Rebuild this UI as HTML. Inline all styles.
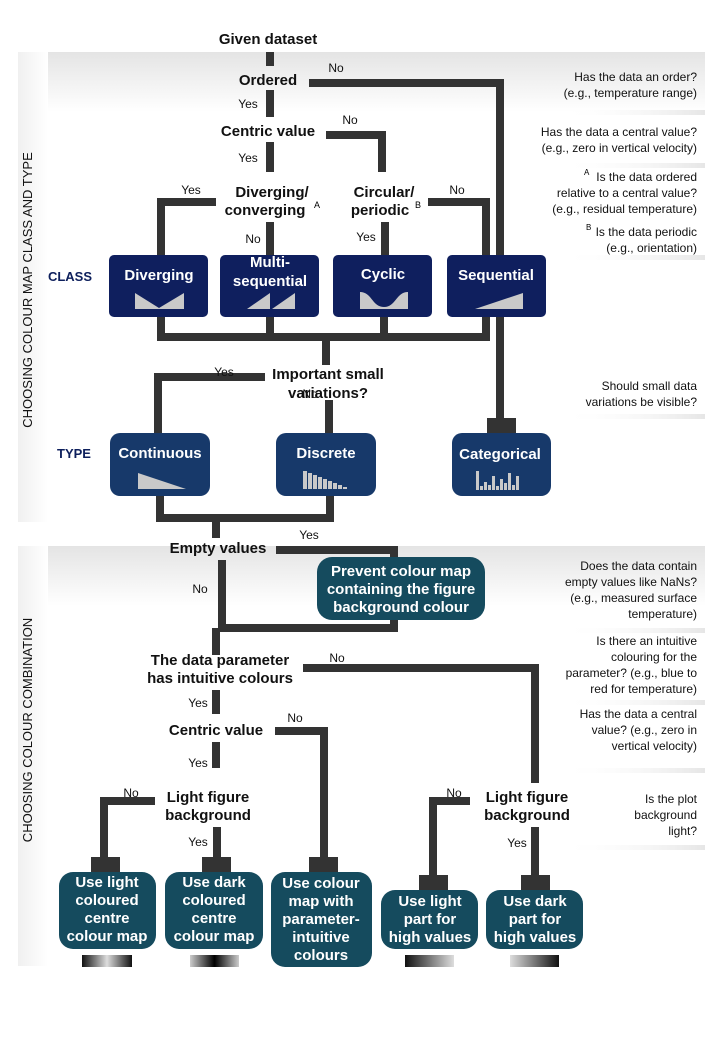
<!DOCTYPE html>
<html><head><meta charset="utf-8"><style>
html,body{margin:0;padding:0;background:#fff}
svg{display:block}
text{font-family:"Liberation Sans",Arial,sans-serif}
.b{font-weight:bold;font-size:15px;fill:#111;text-anchor:middle}
.w{font-weight:bold;font-size:15px;fill:#fff;text-anchor:middle}
.s{font-size:12px;fill:#111;text-anchor:middle}
.r{font-size:12px;fill:#111;text-anchor:end}
.ln{fill:none;stroke:#333;stroke-width:8;stroke-linejoin:miter}
.ic{fill:#c9c9c9}
</style></head><body>
<svg width="720" height="1056" viewBox="0 0 720 1056" xmlns="http://www.w3.org/2000/svg">
<defs>
<linearGradient id="pg" x1="0" y1="0" x2="0" y2="1"><stop offset="0" stop-color="#e4e4e4"/><stop offset="1" stop-color="#fff"/></linearGradient>
<linearGradient id="pl" x1="0" y1="0" x2="1" y2="0"><stop offset="0" stop-color="#f0f0f0"/><stop offset="1" stop-color="#fff"/></linearGradient>
<linearGradient id="g1"><stop offset="0" stop-color="#111"/><stop offset=".5" stop-color="#ddd"/><stop offset="1" stop-color="#111"/></linearGradient>
<linearGradient id="g2"><stop offset="0" stop-color="#ccc"/><stop offset=".5" stop-color="#000"/><stop offset="1" stop-color="#ccc"/></linearGradient>
<linearGradient id="g3"><stop offset="0" stop-color="#111"/><stop offset="1" stop-color="#ddd"/></linearGradient>
<linearGradient id="g4"><stop offset="0" stop-color="#ddd"/><stop offset="1" stop-color="#111"/></linearGradient>
<linearGradient id="sh" x1="0" y1="0" x2="1" y2="0"><stop offset="0" stop-color="#fff" stop-opacity="0"/><stop offset="1" stop-color="#e6e6e6"/></linearGradient>
</defs>
<!-- panels -->
<rect x="18" y="52" width="687" height="60" fill="url(#pg)"/>
<rect x="18" y="52" width="30" height="470" fill="url(#pl)"/>
<rect x="18" y="546" width="687" height="60" fill="url(#pg)"/>
<rect x="18" y="546" width="30" height="420" fill="url(#pl)"/>
<!-- annotation separators -->
<rect x="560" y="110" width="145" height="5" fill="url(#sh)"/>
<rect x="560" y="163" width="145" height="5" fill="url(#sh)"/>
<rect x="560" y="255" width="145" height="5" fill="url(#sh)"/>
<rect x="560" y="414" width="145" height="5" fill="url(#sh)"/>
<rect x="560" y="628" width="145" height="5" fill="url(#sh)"/>
<rect x="560" y="700" width="145" height="5" fill="url(#sh)"/>
<rect x="560" y="768" width="145" height="5" fill="url(#sh)"/>
<rect x="560" y="845" width="145" height="5" fill="url(#sh)"/>

<!-- side labels -->
<text transform="translate(32,290) rotate(-90)" style="font-size:13px;text-anchor:middle;fill:#111">CHOOSING COLOUR MAP CLASS AND TYPE</text>
<text transform="translate(32,730) rotate(-90)" style="font-size:13px;text-anchor:middle;fill:#111">CHOOSING COLOUR COMBINATION</text>
<text x="70" y="281" style="font-size:13px;font-weight:bold;fill:#0d1f5c;text-anchor:middle">CLASS</text>
<text x="74" y="458" style="font-size:13px;font-weight:bold;fill:#0d1f5c;text-anchor:middle">TYPE</text>

<!-- connectors top -->
<path class="ln" d="M270 52V66"/>
<path class="ln" d="M270 90V117"/>
<path class="ln" d="M309 83H500V420"/>
<path class="ln" d="M270 142V172"/>
<path class="ln" d="M326 135H382V172"/>
<path class="ln" d="M216 202H161V256"/>
<path class="ln" d="M270 222V256"/>
<path class="ln" d="M385 222V256"/>
<path class="ln" d="M428 202H486V256"/>
<path class="ln" d="M161 317V337H486V317"/>
<path class="ln" d="M270 317V337"/>
<path class="ln" d="M384 317V337"/>
<path class="ln" d="M326 337V365"/>
<path class="ln" d="M265 377H158V433"/>
<path class="ln" d="M329 400V433"/>
<rect x="487" y="418" width="29" height="15" fill="#333"/>
<path class="ln" d="M160 496V518H330V496"/>
<path class="ln" d="M216 518V538"/>
<path class="ln" d="M276 550H394V558"/>
<path class="ln" d="M222 560V628H394V618"/>
<path class="ln" d="M216 628V655"/>
<path class="ln" d="M303 668H535V783"/>
<path class="ln" d="M216 690V714"/>
<path class="ln" d="M275 731H324V858"/>
<path class="ln" d="M216 742V768"/>
<path class="ln" d="M155 801H104V860"/>
<path class="ln" d="M217 827V860"/>
<path class="ln" d="M470 801H433V880"/>
<path class="ln" d="M535 827V880"/>
<rect x="91" y="857" width="29" height="16" fill="#333"/>
<rect x="202" y="857" width="29" height="16" fill="#333"/>
<rect x="309" y="857" width="29" height="16" fill="#333"/>
<rect x="419" y="875" width="29" height="16" fill="#333"/>
<rect x="521" y="875" width="29" height="16" fill="#333"/>

<!-- decision text -->
<text class="b" x="268" y="44">Given dataset</text>
<text class="b" x="268" y="85">Ordered</text>
<text class="b" x="268" y="136">Centric value</text>
<text class="b" x="272" y="197">Diverging/</text>
<text class="b" x="265" y="215">converging</text><text x="314" y="208" style="font-size:9px">A</text>
<text class="b" x="384" y="197">Circular/</text>
<text class="b" x="380" y="215">periodic</text><text x="415" y="208" style="font-size:9px">B</text>
<text class="b" x="328" y="379">Important small</text>
<text class="b" x="328" y="398">variations?</text>
<text class="b" x="218" y="553">Empty values</text>
<text class="b" x="220" y="665">The data parameter</text>
<text class="b" x="220" y="683">has intuitive colours</text>
<text class="b" x="216" y="735">Centric value</text>
<text class="b" x="208" y="802">Light figure</text>
<text class="b" x="208" y="820">background</text>
<text class="b" x="527" y="802">Light figure</text>
<text class="b" x="527" y="820">background</text>

<!-- yes/no labels -->
<g class="s">
<text x="336" y="72">No</text>
<text x="248" y="108">Yes</text>
<text x="350" y="124">No</text>
<text x="248" y="162">Yes</text>
<text x="191" y="194">Yes</text>
<text x="457" y="194">No</text>
<text x="253" y="243">No</text>
<text x="366" y="241">Yes</text>
<text x="224" y="376">Yes</text>
<text x="310" y="398">No</text>
<text x="309" y="539">Yes</text>
<text x="200" y="593">No</text>
<text x="337" y="662">No</text>
<text x="198" y="707">Yes</text>
<text x="295" y="722">No</text>
<text x="198" y="767">Yes</text>
<text x="131" y="797">No</text>
<text x="198" y="846">Yes</text>
<text x="454" y="797">No</text>
<text x="517" y="847">Yes</text>
</g>

<!-- class boxes -->
<g fill="#0f1f5e">
<rect x="109" y="255" width="99" height="62" rx="5"/>
<rect x="220" y="255" width="99" height="62" rx="5"/>
<rect x="333" y="255" width="99" height="62" rx="5"/>
<rect x="447" y="255" width="99" height="62" rx="5"/>
</g>
<text class="w" x="159" y="280">Diverging</text>
<text class="w" x="270" y="267">Multi-</text>
<text class="w" x="270" y="286">sequential</text>
<text class="w" x="383" y="279">Cyclic</text>
<text class="w" x="496" y="280">Sequential</text>
<polygon class="ic" points="135,293 159,308 184,293 184,309 135,309"/>
<polygon class="ic" points="247,309 270,293 270,309"/>
<polygon class="ic" points="272,309 295,293 295,309"/>
<path class="ic" d="M360 292C372 292 372 307 384 307C396 307 396 292 408 292V309H360Z"/>
<polygon class="ic" points="475,309 523,293 523,309"/>

<!-- type boxes -->
<g fill="#17396a">
<rect x="110" y="433" width="100" height="63" rx="10"/>
<rect x="276" y="433" width="100" height="63" rx="10"/>
<rect x="452" y="433" width="99" height="63" rx="10"/>
</g>
<text class="w" x="160" y="458">Continuous</text>
<text class="w" x="326" y="458">Discrete</text>
<text class="w" x="500" y="459">Categorical</text>
<polygon class="ic" points="138,473 186,489 138,489"/>
<g class="ic">
<rect x="303" y="471" width="4" height="18"/><rect x="308" y="473" width="4" height="16"/><rect x="313" y="475" width="4" height="14"/><rect x="318" y="477" width="4" height="12"/><rect x="323" y="479" width="4" height="10"/><rect x="328" y="481" width="4" height="8"/><rect x="333" y="483" width="4" height="6"/><rect x="338" y="485" width="4" height="4"/><rect x="343" y="487" width="4" height="2"/>
<rect x="476" y="471" width="3" height="19"/><rect x="480" y="486" width="3" height="4"/><rect x="484" y="482" width="3" height="8"/><rect x="488" y="485" width="3" height="5"/><rect x="492" y="476" width="3" height="14"/><rect x="496" y="486" width="3" height="4"/><rect x="500" y="479" width="3" height="11"/><rect x="504" y="483" width="3" height="7"/><rect x="508" y="473" width="3" height="17"/><rect x="512" y="485" width="3" height="5"/><rect x="516" y="476" width="3" height="14"/>
</g>

<!-- teal boxes -->
<g fill="#154b5e">
<rect x="317" y="557" width="168" height="63" rx="15"/>
<rect x="59" y="872" width="97" height="77" rx="14"/>
<rect x="165" y="872" width="98" height="77" rx="14"/>
<rect x="271" y="872" width="101" height="95" rx="14"/>
<rect x="381" y="890" width="97" height="59" rx="14"/>
<rect x="486" y="890" width="97" height="59" rx="14"/>
</g>
<text class="w" x="401" y="576">Prevent colour map</text>
<text class="w" x="401" y="594">containing the figure</text>
<text class="w" x="401" y="612">background colour</text>
<g class="w">
<text x="107" y="887">Use light</text><text x="107" y="905">coloured</text><text x="107" y="923">centre</text><text x="107" y="941">colour map</text>
<text x="214" y="887">Use dark</text><text x="214" y="905">coloured</text><text x="214" y="923">centre</text><text x="214" y="941">colour map</text>
<text x="321" y="888">Use colour</text><text x="321" y="906">map with</text><text x="321" y="924">parameter-</text><text x="321" y="942">intuitive</text><text x="321" y="960">colours</text>
<text x="430" y="906">Use light</text><text x="430" y="924">part for</text><text x="430" y="942">high values</text>
<text x="535" y="906">Use dark</text><text x="535" y="924">part for</text><text x="535" y="942">high values</text>
</g>
<rect x="82" y="955" width="50" height="12" fill="url(#g1)"/>
<rect x="190" y="955" width="49" height="12" fill="url(#g2)"/>
<rect x="405" y="955" width="49" height="12" fill="url(#g3)"/>
<rect x="510" y="955" width="49" height="12" fill="url(#g4)"/>

<!-- annotations -->
<g class="r">
<text x="697" y="81">Has the data an order?</text>
<text x="697" y="97">(e.g., temperature range)</text>
<text x="697" y="136">Has the data a central value?</text>
<text x="697" y="152">(e.g., zero in vertical velocity)</text>
<text x="697" y="181">Is the data ordered</text>
<text x="697" y="197">relative to a central value?</text>
<text x="697" y="213">(e.g., residual temperature)</text>
<text x="697" y="236">Is the data periodic</text>
<text x="697" y="252">(e.g., orientation)</text>
<text x="697" y="390">Should small data</text>
<text x="697" y="406">variations be visible?</text>
<text x="697" y="570">Does the data contain</text>
<text x="697" y="586">empty values like NaNs?</text>
<text x="697" y="602">(e.g., measured surface</text>
<text x="697" y="618">temperature)</text>
<text x="697" y="645">Is there an intuitive</text>
<text x="697" y="661">colouring for the</text>
<text x="697" y="677">parameter? (e.g., blue to</text>
<text x="697" y="693">red for temperature)</text>
<text x="697" y="718">Has the data a central</text>
<text x="697" y="734">value? (e.g., zero in</text>
<text x="697" y="750">vertical velocity)</text>
<text x="697" y="803">Is the plot</text>
<text x="697" y="819">background</text>
<text x="697" y="835">light?</text>
</g>
<text x="584" y="175" style="font-size:8px">A</text>
<text x="586" y="230" style="font-size:8px">B</text>
</svg>
</body></html>
